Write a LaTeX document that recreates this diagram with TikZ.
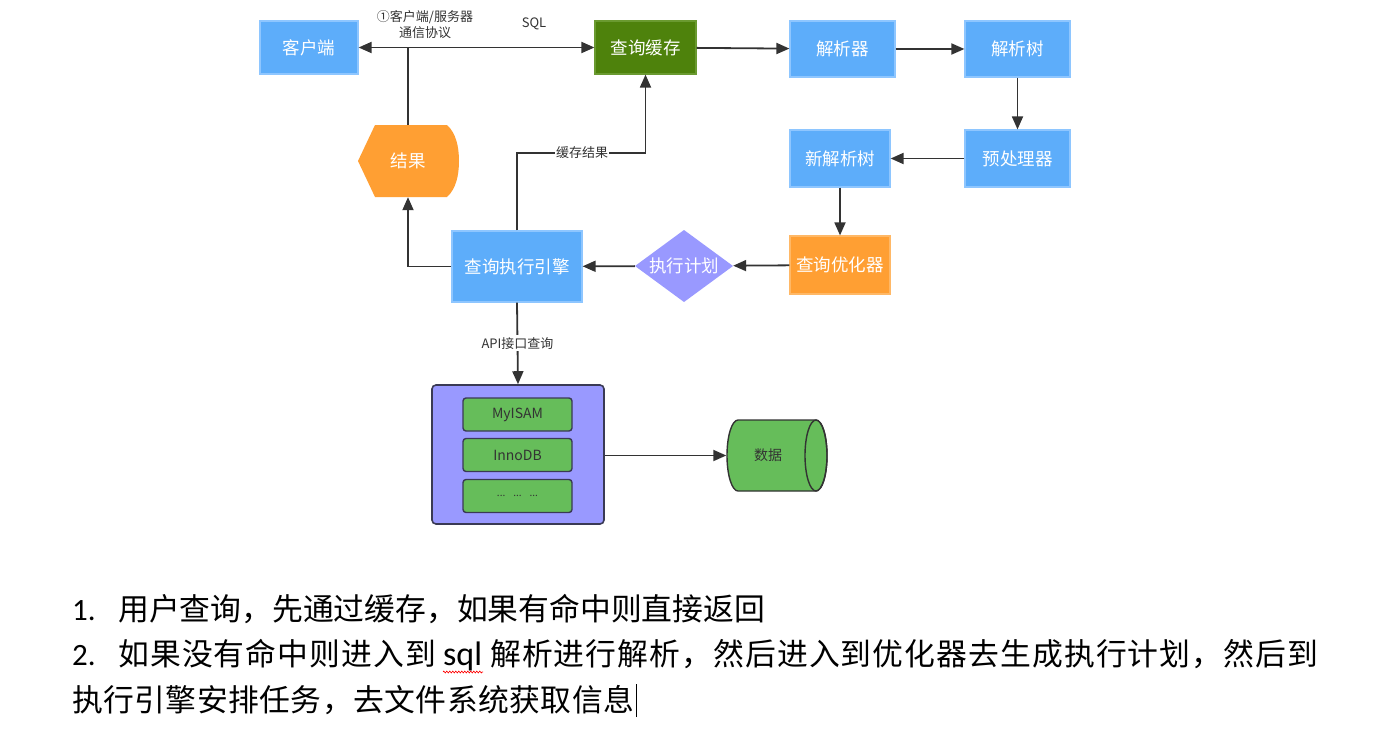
\documentclass[tikz,border=0pt]{standalone}
\usepackage{fontspec}
\setmainfont{Noto Sans CJK SC}
\newfontfamily\cjk{Noto Sans CJK SC}
\newfontfamily\calib{Carlito}
\usetikzlibrary{arrows.meta,decorations.pathmorphing}
\definecolor{nblue}{HTML}{5DADFA}
\definecolor{nblueb}{HTML}{8EC6FF}
\definecolor{ngreen}{HTML}{4E820C}
\definecolor{ngreenb}{HTML}{6A9A30}
\definecolor{norange}{HTML}{FF9F33}
\definecolor{norangeb}{HTML}{FFB866}
\definecolor{npurple}{HTML}{9999FF}
\definecolor{nstoreb}{HTML}{3A3A55}
\definecolor{nlgreen}{HTML}{66BD5A}
\definecolor{nline}{HTML}{333333}
\begin{document}
\begin{tikzpicture}[x=1pt,y=-1pt,
  boxbase/.style={inner sep=0pt, text=white, font=\cjk\fontsize{17.5}{18}\selectfont},
  bluebox/.style={boxbase, draw=nblueb, fill=nblue, line width=1.2pt},
  greenbox/.style={boxbase, draw=ngreenb, fill=ngreen, line width=1.2pt},
  orangebox/.style={boxbase, draw=norangeb, fill=norange, line width=1.2pt},
  ghost/.style={inner sep=0pt, text=white, font=\cjk\fontsize{17.5}{18}\selectfont},
  conn/.style={draw=nline, line width=1.8pt, -{Triangle[length=13pt,width=11pt]}},
  plainline/.style={draw=nline, line width=1.8pt},
  lbl/.style={text=nline, font=\cjk\fontsize{13}{15}\selectfont, inner sep=1pt},
  engbox/.style={draw=nstoreb, fill=nlgreen, line width=1.4pt, rounded corners=3pt,
    minimum width=109pt, minimum height=33pt, inner sep=0pt, text=nline,
    font=\cjk\fontsize{14}{14}\selectfont},
  body/.style={font=\cjk\fontsize{30.8}{31}\selectfont, inner sep=0pt, anchor=base west},
  num/.style={font=\calib\fontsize{31}{31}\selectfont, inner sep=0pt, anchor=base west}
]
\useasboundingbox[fill=white] (0,0) rectangle (1379,752);

% top row
\node[bluebox, minimum width=98pt, minimum height=53pt] (client) at (309,47.5) {客户端};
\node[greenbox, minimum width=101pt, minimum height=53pt] (cache) at (645.5,47.5) {查询缓存};
\node[bluebox, minimum width=105pt, minimum height=56pt] (parser) at (842.5,49) {解析器};
\node[bluebox, minimum width=105pt, minimum height=56pt] (ptree) at (1017.5,49) {解析树};
\node[bluebox, minimum width=105pt, minimum height=57pt] (pre) at (1017.5,158.5) {预处理器};
\node[bluebox, minimum width=100pt, minimum height=57pt] (ntree) at (840,158.5) {新解析树};
\node[orangebox, minimum width=100pt, minimum height=58pt] (opt) at (840,265) {查询优化器};

% plan diamond
\fill[npurple] (684,230) -- (733,266) -- (684,302) -- (635,266) -- cycle;
\node[ghost, minimum width=98pt, minimum height=72pt] (plan) at (684,266) {执行计划};

% engine
\node[bluebox, minimum width=130pt, minimum height=71pt] (engine) at (517,266.5) {查询执行引擎};

% result shape
\fill[norange] (358,161) -- (375,125) -- (447,125) .. controls (456,133) and (459,147) .. (459,161)
  .. controls (459,175) and (456,189) .. (447,197) -- (375,197) -- cycle;
\node[ghost, minimum width=101pt, minimum height=72pt] (result) at (408,161) {结果};

% storage
\node[draw=nstoreb, fill=npurple, line width=1.6pt, rounded corners=4pt,
  minimum width=172pt, minimum height=139pt, inner sep=0pt] (store) at (518,454.5) {};
\node[engbox] (myisam) at (517.5,414.5) {MyISAM};
\node[engbox] (innodb) at (517.5,455) {InnoDB};
\node[engbox] (others) at (517.5,496) {\fontsize{10}{10}\selectfont ...\hspace{8pt}...\hspace{8pt}...};

% data cylinder
\filldraw[fill=nlgreen, draw=nline, line width=1.4pt]
  (738,420) -- (816,420) arc[start angle=90, end angle=-90, x radius=11, y radius=-35.5]
  -- (738,491) arc[start angle=270, end angle=90, x radius=11, y radius=-35.5] -- cycle;
\draw[nline, line width=1.4pt] (816,455.5) ellipse[x radius=11, y radius=35.5];
\node[ghost, text=nline, font=\cjk\fontsize{14}{14}\selectfont, minimum width=101pt, minimum height=71pt] (data) at (777,455.5) {};
\node[ghost, text=nline, font=\cjk\fontsize{14}{14}\selectfont] (datalbl) at (768,455.5) {数据};

% connectors
\draw[plainline, {Triangle[length=13pt,width=11pt]}-{Triangle[length=13pt,width=11pt]}] (client.east) -- (cache.west);
\draw[plainline] (result.north) -- (result.north |- client.east);
\draw[conn] (cache) -- (parser);
\draw[conn] (parser) -- (ptree);
\draw[conn] (ptree) -- (pre);
\draw[conn] (pre) -- (ntree);
\draw[conn] (ntree) -- (opt);
\draw[conn] (opt) -- (plan);
\draw[conn] (plan) -- (engine);
\draw[conn] (engine.west) -| (result.south);
\coordinate (cr) at (582,153);
\draw[conn] (engine.north) |- (cr) -| (cache.south);
\node[lbl, fill=white] (crl) at (cr) {缓存结果};
\draw[conn] (engine.south) -- (store.north) node[midway, lbl, fill=white, inner sep=2pt] (api) {API接口查询};
\draw[conn] (store.east |- data.west) -- (data.west);

% top labels
\node[lbl, align=center, font=\cjk\fontsize{13}{16}\selectfont] (proto) at (425,25) {①客户端/服务器\\通信协议};
\node[lbl] (sql) at (534,24) {SQL};

% bottom text
\node[num] (n1) at (72,620) {1.};
\node[body] (t1) at (118,620) {用户查询，先通过缓存，如果有命中则直接返回};
\node[num] (n2) at (72,665) {2.};
\node[body] (t2a) at (118,665) {\makebox[318pt][l]{如\hfill 果\hfill 没\hfill 有\hfill 命\hfill 中\hfill 则\hfill 进\hfill 入\hfill 到}};
\node[num, font=\calib\fontsize{34}{34}\selectfont] (t2s) at (443,665) {sql};
\node[body] (t2b) at (490,665) {\makebox[828pt][l]{解\hfill 析\hfill 进\hfill 行\hfill 解\hfill 析\hfill ，\hfill 然\hfill 后\hfill 进\hfill 入\hfill 到\hfill 优\hfill 化\hfill 器\hfill 去\hfill 生\hfill 成\hfill 执\hfill 行\hfill 计\hfill 划\hfill ，\hfill 然\hfill 后\hfill 到}};
\node[body] (t3) at (72,711) {\makebox[562pt][l]{执\hfill 行\hfill 引\hfill 擎\hfill 安\hfill 排\hfill 任\hfill 务\hfill ，\hfill 去\hfill 文\hfill 件\hfill 系\hfill 统\hfill 获\hfill 取\hfill 信\hfill 息}};
\draw[red, line width=0.6pt, decorate, decoration={zigzag, amplitude=1pt, segment length=3pt}]
  (t2s.base west) ++(0,7) -- ++(40,0);
\draw[black, line width=1.5pt] (t3.base east) ++(2,6) -- ++(0,-33);
\end{tikzpicture}
\end{document}
